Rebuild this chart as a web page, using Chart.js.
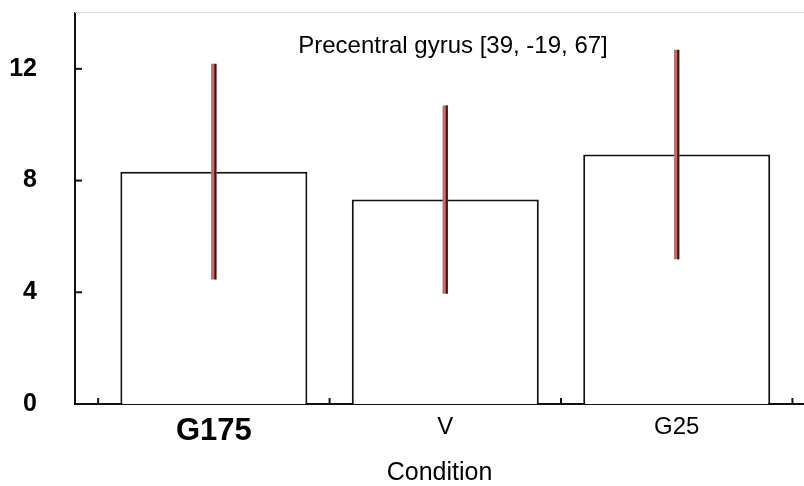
<!DOCTYPE html>
<html>
<head>
<meta charset="utf-8">
<script src="https://cdn.jsdelivr.net/npm/chart.js@4.4.1/dist/chart.umd.min.js"></script>
<style>
  html, body { margin: 0; padding: 0; background: #fff; }
  #wrap { width: 804px; height: 486px; }
</style>
</head>
<body>
<div id="wrap"><canvas id="conditionChart"></canvas></div>
<script>
// Condition means and error half-widths
const conditions = ['G175', 'V', 'G25'];
const meanValues = [8.32, 7.32, 8.93];
const errorValues = [3.86, 3.37, 3.75];
const yLabelTicks = [0, 4, 8, 12];
const panelTitle = 'Precentral gyrus [39, -19, 67]';

const fontFamily = '"Liberation Sans", Arial, sans-serif';

// bars sit at x = 1, 2, 3 on a linear axis
const barPoints = conditions.map((c, i) => ({ x: i + 1, y: meanValues[i] }));

// tick marks drawn inside the plot area, error bars and the panel title
const decorations = {
    id: 'decorations',
    afterDatasetsDraw(chart) {
        const ctx = chart.ctx;
        const ys = chart.scales.y;
        const meta = chart.getDatasetMeta(0);
        ctx.save();
        ctx.lineCap = 'butt';
        meta.data.forEach((bar, i) => {
            const top = ys.getPixelForValue(meanValues[i] + errorValues[i]);
            const bottom = ys.getPixelForValue(meanValues[i] - errorValues[i]);
            ctx.strokeStyle = '#c26c6c';
            ctx.lineWidth = 5.5;
            ctx.beginPath();
            ctx.moveTo(bar.x, top);
            ctx.lineTo(bar.x, bottom);
            ctx.stroke();
            ctx.strokeStyle = '#3a1515';
            ctx.lineWidth = 2;
            ctx.beginPath();
            ctx.moveTo(bar.x + 1.5, top);
            ctx.lineTo(bar.x + 1.5, bottom);
            ctx.stroke();
        });
        ctx.restore();
    },
    afterDraw(chart) {
        const ctx = chart.ctx;
        const xs = chart.scales.x;
        const ys = chart.scales.y;
        const area = chart.chartArea;
        ctx.save();
        // faint frame line along the top
        ctx.strokeStyle = '#dcdcdc';
        ctx.lineWidth = 1;
        ctx.beginPath();
        ctx.moveTo(area.left, area.top - 0.5);
        ctx.lineTo(area.right, area.top - 0.5);
        ctx.stroke();

        ctx.strokeStyle = '#111';
        ctx.lineWidth = 2;
        ys.ticks.forEach(t => {
            const y = ys.getPixelForValue(t.value);
            ctx.beginPath();
            ctx.moveTo(area.left, y);
            ctx.lineTo(area.left + 7, y);
            ctx.stroke();
        });
        for (let v = 0.5; v < xs.max; v += 1) {
            const x = xs.getPixelForValue(v);
            ctx.beginPath();
            ctx.moveTo(x, area.bottom);
            ctx.lineTo(x, area.bottom - 6);
            ctx.stroke();
        }

        ctx.fillStyle = '#000';
        ctx.font = '24px ' + fontFamily;
        ctx.textAlign = 'center';
        ctx.textBaseline = 'middle';
        ctx.fillText(panelTitle, area.left + 378, area.top + 33);
        ctx.restore();
    }
};

const config = {
    type: 'bar',
    data: {
        datasets: [{
            data: barPoints,
            backgroundColor: '#ffffff',
            borderColor: '#111111',
            borderWidth: 2,
            categoryPercentage: 1,
            barPercentage: 0.808
        }]
    },
    options: {
        responsive: true,
        maintainAspectRatio: false,
        animation: false,
        layout: { padding: { top: 13, right: 0, left: 0, bottom: 0 } },
        plugins: {
            legend: { display: false },
            tooltip: { enabled: false }
        },
        scales: {
            x: {
                type: 'linear',
                offset: false,
                min: 0.4,
                max: 3.55,
                grid: { display: false, drawTicks: false },
                border: { display: true, color: '#111', width: 2 },
                afterBuildTicks: axis => {
                    axis.ticks = conditions.map((c, i) => ({ value: i + 1 }));
                },
                afterFit: axis => {
                    axis.height = 82;
                    axis.paddingLeft = axis.paddingRight = 0;
                    axis.paddingTop = axis.paddingBottom = 0;
                },
                ticks: {
                    padding: 9,
                    color: '#000',
                    autoSkip: false,
                    maxRotation: 0,
                    callback: value => conditions[value - 1],
                    font: ctx => ctx.index === 0
                        ? { family: fontFamily, size: 31, weight: 'bold' }
                        : { family: fontFamily, size: 24 }
                },
                title: {
                    display: true,
                    text: 'Condition',
                    color: '#000',
                    font: { family: fontFamily, size: 25, lineHeight: 1 },
                    padding: { top: 0, bottom: 0 }
                }
            },
            y: {
                min: 0,
                max: 14,
                grid: { display: false, drawTicks: false },
                border: { display: true, color: '#111', width: 2 },
                afterFit: axis => {
                    axis.width = 75;
                    axis.paddingLeft = axis.paddingRight = 0;
                    axis.paddingTop = axis.paddingBottom = 0;
                },
                ticks: {
                    stepSize: 2,
                    padding: 38,
                    color: '#000',
                    autoSkip: false,
                    font: { family: fontFamily, size: 25, weight: 'bold' },
                    callback: value => yLabelTicks.includes(value) ? String(value) : null
                }
            }
        }
    },
    plugins: [decorations]
};

window.onload = function() {
    const ctx = document.getElementById('conditionChart').getContext('2d');
    new Chart(ctx, config);
};
</script>
</body>
</html>
